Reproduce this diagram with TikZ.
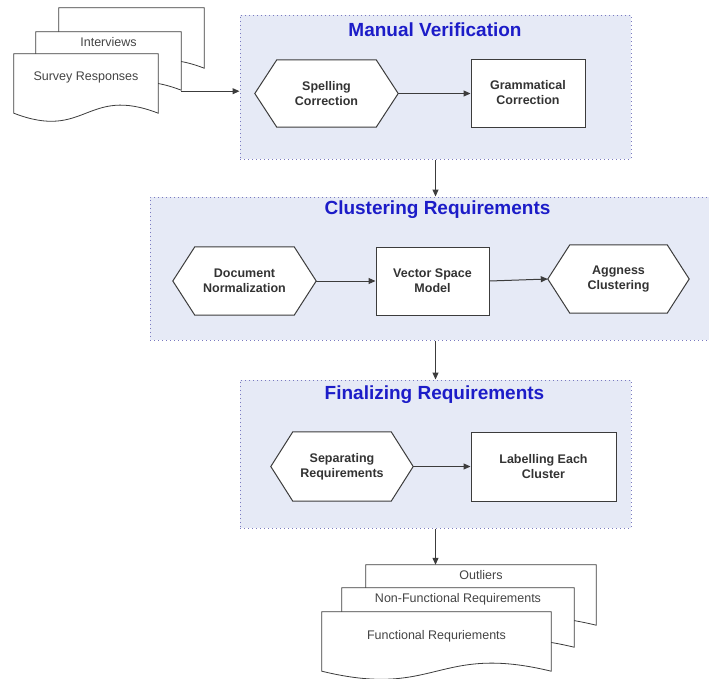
\documentclass[tikz,border=0pt]{standalone}
\usepackage{fontspec}
\setmainfont{Liberation Sans}
\usetikzlibrary{arrows.meta}

\definecolor{groupfill}{HTML}{E6EAF6}
\definecolor{groupedge}{HTML}{7A7AC0}
\definecolor{titleblue}{HTML}{1C1CC8}
\definecolor{inkgray}{HTML}{333333}
\definecolor{docink}{HTML}{444444}
\definecolor{edgegray}{HTML}{3C3C3C}

\pgfdeclarelayer{bg}
\pgfdeclarelayer{mid}
\pgfsetlayers{bg,mid,main}

% hexagonal outline around a (borderless) node
\newcommand\hexframe[1]{%
  \draw[boxline,fill=white] (#1.west) -- ([xshift=22pt]#1.north west)
    -- ([xshift=-22pt]#1.north east) -- (#1.east)
    -- ([xshift=-22pt]#1.south east) -- ([xshift=22pt]#1.south west) -- cycle;}

% document outline with a wavy bottom edge
\newcommand\docframe[1]{%
  \draw[docline] (#1.south west) -- (#1.north west) -- (#1.north east) -- (#1.south east)
    .. controls ([yshift=28pt]#1.south) and ([yshift=-28pt]#1.south) .. (#1.south west) -- cycle;}

\begin{document}
\begin{tikzpicture}[x=1pt,y=-1pt,
  groupbox/.style={fill=groupfill,draw=groupedge,line width=1pt,
    dash pattern=on 1pt off 3pt,inner sep=0pt},
  grouptitle/.style={font=\fontsize{19}{22}\selectfont\bfseries,text=titleblue},
  boxline/.style={draw=edgegray,line width=1pt},
  stepbox/.style={boxline,fill=white,align=center,inner sep=0pt,
    font=\fontsize{12.5}{15}\selectfont\bfseries,text=inkgray},
  hexnode/.style={align=center,inner sep=0pt,
    font=\fontsize{12.5}{15}\selectfont\bfseries,text=inkgray},
  docbody/.style={inner sep=0pt},
  docline/.style={draw=edgegray,line width=0.8pt,fill=white},
  doclabel/.style={font=\fontsize{12.5}{15}\selectfont,text=docink,inner sep=0pt},
  flow/.style={draw=edgegray,line width=1pt,-{Triangle[length=7pt,width=6pt]}}
]
\useasboundingbox (0,0) rectangle (709,678);

% ---- stage containers
\begin{pgfonlayer}{bg}
  \node[groupbox,minimum width=391pt,minimum height=144pt] (g1) at (435.5,87) {};
  \node[groupbox,minimum width=565pt,minimum height=143pt] (g2) at (432.5,268.5) {};
  \node[groupbox,minimum width=391pt,minimum height=148pt] (g3) at (435.5,454) {};
\end{pgfonlayer}

\node[grouptitle] (t1) at (435,30) {Manual Verification};
\node[grouptitle] (t2) at (437.5,210) {Clustering Requirements};
\node[grouptitle] (t3) at (434.5,395) {Finalizing Requirements};

% ---- input documents
\node[docbody,minimum width=145pt,minimum height=60pt] (d0) at (131.5,38) {};
\node[docbody,minimum width=145pt,minimum height=58pt,
  label={[doclabel,yshift=19pt]center:Interviews}] (iv) at (108.5,61) {};
\node[docbody,minimum width=144pt,minimum height=59pt,
  label={[doclabel,yshift=6.5pt]center:Survey Responses}] (sv) at (86,83.5) {};

% ---- steps
\node[hexnode,minimum width=143pt,minimum height=67pt] (sp) at (326.5,93.5) {Spelling\\Correction};
\node[stepbox,minimum width=114pt,minimum height=68pt] (gc) at (528,93) {Grammatical\\Correction};

\node[hexnode,minimum width=143pt,minimum height=68pt] (dn) at (244.5,281) {Document\\Normalization};
\node[stepbox,minimum width=113pt,minimum height=68pt] (vs) at (432.5,281) {Vector Space\\Model};
\node[hexnode,minimum width=141pt,minimum height=68pt] (ag) at (618.5,279) {Aggness\\Clustering};

\node[hexnode,minimum width=142pt,minimum height=69pt] (sr) at (342,466.5) {Separating\\Requirements};
\node[stepbox,minimum width=145pt,minimum height=69pt] (lc) at (543.5,466.5) {Labelling Each\\Cluster};

% ---- output documents
\node[docbody,minimum width=230pt,minimum height=60pt,
  label={[doclabel,yshift=20pt]center:Outliers}] (ol) at (481,595) {};
\node[docbody,minimum width=232pt,minimum height=59pt,
  label={[doclabel,yshift=18.5pt]center:Non-Functional Requirements}] (nf) at (458,617.5) {};
\node[docbody,minimum width=229pt,minimum height=59pt,
  label={[doclabel,yshift=5.5pt]center:Functional Requriements}] (fr) at (436.5,641.5) {};

\begin{pgfonlayer}{mid}
  \docframe{d0}\docframe{iv}\docframe{sv}
  \hexframe{sp}\hexframe{dn}\hexframe{ag}\hexframe{sr}
  \docframe{ol}\docframe{nf}\docframe{fr}
\end{pgfonlayer}

% ---- connectors
\draw[flow] ([yshift=-1pt]iv.south east) -- ([yshift=-1pt]iv.south east -| g1.west);
\draw[flow] (sp.east) -- (sp.east -| gc.west);
\draw[flow] (g1.south) -- (g1.south |- g2.north);
\draw[flow] (dn.east) -- (vs.west);
\draw[flow] (vs.east) -- (ag.west);
\draw[flow] (g3.north |- g2.south) -- (g3.north);
\draw[flow] (sr.east) -- (sr.east -| lc.west);
\draw[flow] (g3.south) -- (g3.south |- ol.north);
\end{tikzpicture}
\end{document}
